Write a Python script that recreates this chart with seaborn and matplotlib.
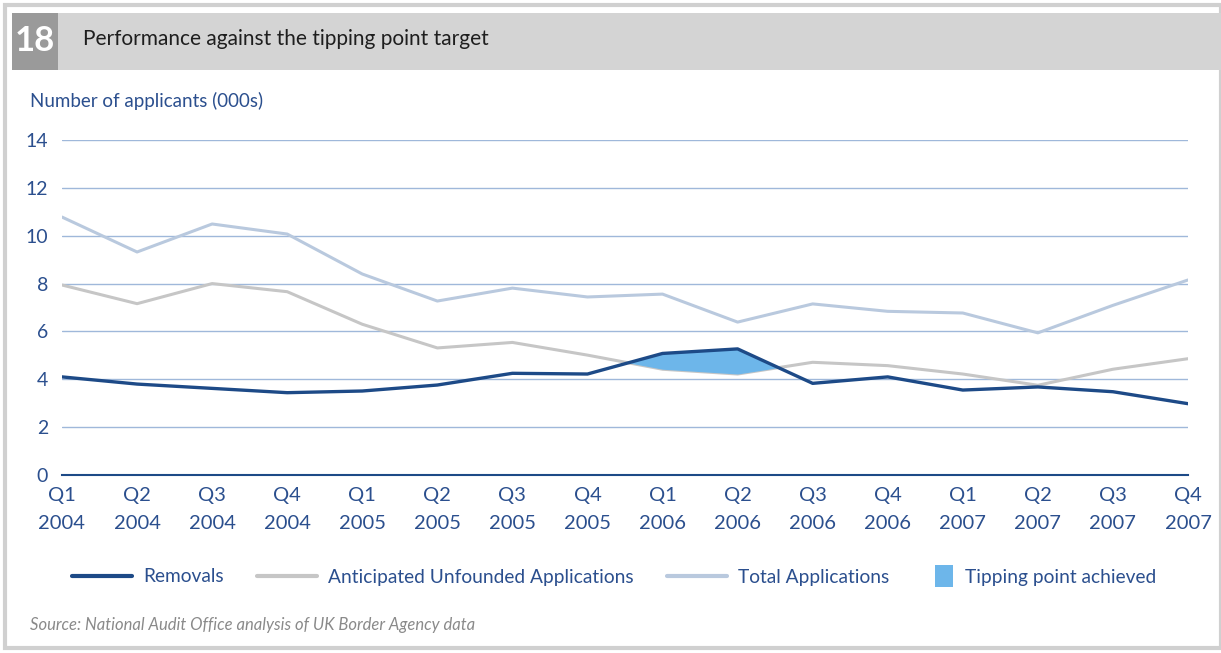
import numpy as np
import pandas as pd
import matplotlib
matplotlib.use("Agg")
import matplotlib.pyplot as plt
from matplotlib.patches import Rectangle, Patch
from matplotlib.lines import Line2D
from matplotlib.legend_handler import HandlerPatch
import seaborn as sns

# data (thousands of applicants)
quarters = ["Q1", "Q2", "Q3", "Q4"] * 4
years = ["2004"] * 4 + ["2005"] * 4 + ["2006"] * 4 + ["2007"] * 4
removals = [4.10, 3.80, 3.62, 3.44, 3.51, 3.76, 4.25, 4.22,
            5.08, 5.27, 3.83, 4.10, 3.55, 3.68, 3.48, 2.98]
anticipated = [7.94, 7.16, 8.00, 7.66, 6.30, 5.31, 5.54, 5.01,
               4.42, 4.22, 4.71, 4.57, 4.22, 3.75, 4.42, 4.86]
total = [10.78, 9.32, 10.49, 10.07, 8.40, 7.27, 7.81, 7.44,
         7.56, 6.39, 7.15, 6.84, 6.77, 5.94, 7.09, 8.15]

sns.set_style("white")
plt.rcParams["font.family"] = ["Lato", "DejaVu Sans"]

C_REM = "#1d4a87"
C_ANT = "#c6c6c6"
C_TOT = "#b9c9de"
C_FILL = "#6db6ea"
C_TXT = "#2b4f8e"
C_GRID = "#9fb8da"

df = pd.DataFrame({"x": np.arange(len(quarters)), "removals": removals,
                   "anticipated": anticipated, "total": total})

fig = plt.figure(figsize=(12.21, 6.53), dpi=100)
W, H = 1221, 653

def px(x0, y0, w, h, **kw):
    # rectangle in pixel coords (top-left origin), drawn behind the axes
    fig.patches.append(Rectangle((x0 / W, 1 - (y0 + h) / H), w / W, h / H,
                                 transform=fig.transFigure, figure=fig,
                                 zorder=-5, **kw))

# frame and header
px(5, 5, 1216, 643, facecolor="white", edgecolor="#d0d0d0", linewidth=3)
px(12, 13, 1209, 57, facecolor="#d4d4d4", edgecolor="none")
px(12, 13, 46, 57, facecolor="#9a9a9a", edgecolor="none")
fig.text(35 / W, 1 - 41 / H, "18", color="white", fontsize=25, fontweight="bold",
         ha="center", va="center")
fig.text(83 / W, 1 - 39 / H, "Performance against the tipping point target",
         color="#1e1e1e", fontsize=15, va="center")
fig.text(30 / W, 1 - 101 / H, "Number of applicants (000s)", color=C_TXT,
         fontsize=13.5, va="center")

ax = fig.add_axes([62 / W, 1 - 475 / H, (1188 - 62) / W, (475 - 140) / H])
ax.patch.set_alpha(0)
sns.lineplot(data=df, x="x", y="total", ax=ax, color=C_TOT, linewidth=2.2)
sns.lineplot(data=df, x="x", y="anticipated", ax=ax, color=C_ANT, linewidth=2.2)
ax.fill_between(df["x"], df["anticipated"], df["removals"],
                where=df["removals"] > df["anticipated"], interpolate=True,
                color=C_FILL, linewidth=0, zorder=3)
sns.lineplot(data=df, x="x", y="removals", ax=ax, color=C_REM, linewidth=2.4, zorder=4)

ax.set_xlim(0, len(quarters) - 1)
ax.set_ylim(0, 14)
ax.set_yticks(range(0, 15, 2))
ax.yaxis.grid(True, color=C_GRID, linewidth=1)
ax.set_axisbelow(True)
ax.set_xticks(df["x"])
ax.set_xticklabels([f"{q}\n{y}" for q, y in zip(quarters, years)], linespacing=1.75)
for s in ["top", "right", "left"]:
    ax.spines[s].set_visible(False)
ax.spines["bottom"].set_color(C_REM)
ax.spines["bottom"].set_linewidth(1.5)
ax.tick_params(axis="x", colors=C_TXT, labelsize=14.5, length=6, width=1.3,
               direction="out", pad=3)
ax.tick_params(axis="x", color=C_REM)
ax.tick_params(axis="y", colors=C_TXT, labelsize=14, length=0, pad=10)
ax.set_xlabel("")
ax.set_ylabel("")


def small_square(legend, orig_handle, xdescent, ydescent, width, height, fontsize):
    w, h = 13, 16
    return Rectangle((-xdescent, -ydescent + height / 2 - h / 2), w, h)


line_handles = [Line2D([], [], color=C_REM, linewidth=3),
                Line2D([], [], color=C_ANT, linewidth=3),
                Line2D([], [], color=C_TOT, linewidth=3)]
line_labels = ["Removals", "Anticipated Unfounded Applications", "Total Applications"]
leg = fig.legend(line_handles, line_labels, loc="center left",
                 bbox_to_anchor=(55 / W, 1 - 577 / H),
                 ncol=3, frameon=False, fontsize=13.8, handlelength=3.1,
                 columnspacing=1.75, handletextpad=0.6)
for t in leg.get_texts():
    t.set_color(C_TXT)

leg2 = fig.legend([Patch(facecolor=C_FILL, edgecolor="none")], ["Tipping point achieved"],
                  loc="center left", bbox_to_anchor=(918 / W, 1 - 577 / H),
                  frameon=False, fontsize=13.8, handlelength=0.95, handletextpad=0.6,
                  handler_map={Patch: HandlerPatch(patch_func=small_square)})
for t in leg2.get_texts():
    t.set_color(C_TXT)

fig.text(30 / W, 1 - 625 / H, "Source: National Audit Office analysis of UK Border Agency data",
         color="#8a8a8a", fontsize=12, style="italic", va="center")

fig.savefig("out.png", dpi=100)
